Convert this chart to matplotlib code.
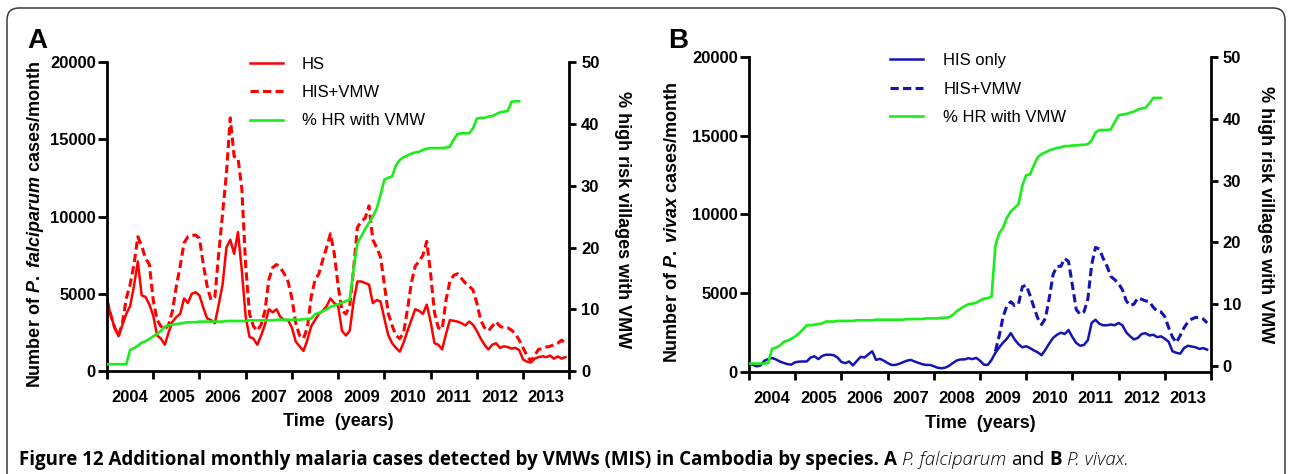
### Script description ###
# Monthly malaria cases (HIS vs HIS+VMW) and % high-risk villages with VMW, Cambodia
### Packages ###
import matplotlib
matplotlib.use('Agg')
import matplotlib.pyplot as plt
import matplotlib.ticker as ticker
from matplotlib.patches import FancyBboxPatch
import numpy as np

plt.rcParams['font.family'] = ['Liberation Sans', 'DejaVu Sans']
plt.rcParams['mathtext.fontset'] = 'custom'
plt.rcParams['mathtext.rm'] = 'Liberation Sans:bold'
plt.rcParams['mathtext.it'] = 'Liberation Sans:italic:bold'

##### data (one value per month 2004-2013) #####
months = 2004 + np.arange(120) / 12
years = [str(y) for y in range(2004, 2014)]

# A - P. falciparum
pf_his = [4600, 3600, 2800, 2250, 3000, 3700, 4200, 5500, 7100, 4900,
          4800, 4300, 3600, 2300, 2100, 1700, 2500, 3200, 3500, 3700,
          4700, 4400, 5000, 5100, 4900, 4100, 3400, 3300, 3100, 4300,
          5600, 8000, 8500, 7600, 9000, 6500, 3500, 2200, 2100, 1700,
          2300, 3000, 4000, 3800, 4000, 3500, 3300, 3300, 2800, 1900,
          1600, 1300, 2000, 2900, 3300, 3700, 3900, 4200, 4700, 4400,
          4200, 2600, 2300, 2600, 4500, 5800, 5800, 5700, 5600, 4400,
          4600, 4500, 3400, 2330, 1800, 1500, 1250, 1850, 2600, 3300,
          4000, 3900, 3700, 4300, 3200, 1800, 1700, 1400, 2400, 3300,
          3250, 3200, 3100, 2950, 3200, 3000, 2600, 2100, 1700, 1400,
          1700, 1800, 1500, 1600, 1550, 1450, 1500, 1350, 750, 600,
          550, 800, 900, 950, 900, 1000, 800, 950, 800, 900]
pf_vmw = [4600, 3600, 2800, 2300, 3100, 4700, 5600, 6900, 8700, 8100,
          7300, 6900, 4600, 3300, 2900, 2700, 3000, 3900, 5500, 6800,
          8300, 8700, 8800, 8800, 8600, 6900, 5500, 4600, 4800, 7600,
          10200, 12800, 16400, 13900, 13800, 11800, 6800, 3700, 2900, 2600,
          3000, 3900, 5900, 6700, 6900, 6700, 6300, 5800, 4700, 3100,
          2300, 2100, 2800, 4800, 5900, 6300, 7200, 8000, 8900, 7600,
          5500, 3900, 3700, 4200, 6600, 9300, 9700, 9900, 10700, 8500,
          8000, 7400, 5600, 3740, 2950, 2300, 2100, 2500, 4000, 5700,
          6800, 7100, 7500, 8400, 6300, 3800, 2800, 2700, 4600, 5800,
          6200, 6300, 6000, 5700, 5500, 5250, 4400, 3300, 2800, 2600,
          2900, 3200, 2900, 2800, 2800, 2650, 2400, 2000, 1500, 1000,
          650, 1000, 1400, 1450, 1550, 1600, 1700, 1800, 2000, 1800]
pf_hr = [1.1, 1.1, 1.1, 1.1, 1.1, 1.1,
         3.4, 3.7, 4.1, 4.6, 4.8, 5.2, 5.6, 6.0, 6.5, 7.2,
         7.4, 7.5, 7.6, 7.7, 7.8, 7.9, 7.9, 7.9, 8.0, 8.0,
         8.0, 8.0, 8.0, 8.0, 8.0, 8.1, 8.1, 8.1, 8.1, 8.1,
         8.1, 8.2, 8.2, 8.2, 8.2, 8.2, 8.2, 8.2, 8.3, 8.3,
         8.3, 8.3, 8.3, 8.3, 8.3, 8.4, 8.4, 8.5, 9.2, 9.4,
         9.7, 10.0, 10.4, 10.6, 10.8, 11.1, 11.3, 11.5, 16.5, 20.7,
         21.8, 23.0, 24.0, 25.0, 26.3, 28.5, 31.0, 31.3, 31.5, 33.3,
         34.2, 34.6, 34.9, 35.2, 35.4, 35.5, 35.8, 36.0, 36.1, 36.1,
         36.1, 36.1, 36.2, 36.3, 37.5, 38.4, 38.5, 38.5, 38.5, 39.3,
         40.9, 41.0, 41.0, 41.2, 41.3, 41.6, 41.9, 42.0, 42.1, 43.6,
         43.7, 43.7]

# B - P. vivax
pv_his = [540, 430, 340, 400, 700, 800, 870, 780, 650, 560,
          480, 450, 600, 640, 650, 650, 900, 980, 800, 1000,
          1080, 1080, 1050, 900, 620, 540, 650, 400, 680, 950,
          900, 1100, 1300, 750, 820, 700, 550, 430, 430, 500,
          600, 700, 750, 650, 560, 480, 430, 430, 350, 250,
          220, 260, 380, 560, 720, 780, 780, 860, 800, 880,
          700, 450, 430, 750, 1200, 1550, 1850, 2100, 2450, 2050,
          1750, 1550, 1620, 1500, 1350, 1230, 1050, 1400, 1800, 2150,
          2350, 2480, 2400, 2650, 2200, 1830, 1650, 1700, 2000, 3100,
          3300, 3050, 2950, 2950, 3000, 2950, 3100, 2950, 2500, 2250,
          2050, 2150, 2400, 2450, 2300, 2350, 2200, 2250, 2100, 1900,
          1300, 1200, 1150, 1500, 1650, 1600, 1550, 1450, 1500, 1400]
pv_vmw_start = 64  # HIS+VMW only plotted from month 64 (May 2009)
pv_vmw = [1300, 2300, 3500, 4200, 4450, 4200,
          4300, 5400, 5500, 4850, 4100, 3400, 3000, 3400, 4700, 6200,
          6700, 6700, 7200, 7000, 5500, 3950, 3650, 3800, 4600, 6800,
          7900, 7800, 7200, 6700, 6050, 5850, 5600, 5200, 4500, 4200,
          4300, 4700, 4600, 4500, 4450, 4100, 3850, 3800, 3500, 2800,
          2200, 1850, 2300, 2800, 3150, 3350, 3450, 3450, 3350, 3100]
pv_hr = [0.4, 0.4, 0.4, 0.4, 0.4, 0.5,
         2.8, 3.0, 3.3, 3.9, 4.1, 4.4, 4.8, 5.3, 5.9, 6.6,
         6.6, 6.7, 6.8, 6.9, 7.2, 7.2, 7.2, 7.3, 7.3, 7.3,
         7.3, 7.3, 7.4, 7.4, 7.4, 7.4, 7.4, 7.5, 7.5, 7.5,
         7.5, 7.5, 7.5, 7.5, 7.5, 7.6, 7.6, 7.6, 7.6, 7.6,
         7.7, 7.7, 7.7, 7.7, 7.8, 7.8, 7.9, 8.3, 8.9, 9.3,
         9.7, 10.0, 10.1, 10.2, 10.6, 10.9, 11.0, 11.2, 19.5, 21.5,
         22.4, 24.0, 25.0, 25.6, 26.2, 29.2, 30.9, 31.0, 32.5, 33.8,
         34.3, 34.6, 34.9, 35.1, 35.3, 35.4, 35.6, 35.6, 35.7, 35.7,
         35.8, 35.8, 35.9, 36.5, 37.8, 38.2, 38.2, 38.2, 38.3, 39.5,
         40.6, 40.7, 40.8, 41.0, 41.2, 41.5, 41.7, 41.8, 42.5, 43.4,
         43.4, 43.4]

##### styles #####
red = '#ff0000'
blue = '#1414b4'
green = '#19ee19'
dash = (2.7, 1.4)
W, H = 1292, 474


def px(x0, y_top, x1, y_bot):
    '''pixel box (from top-left) -> figure fraction [l, b, w, h]'''
    return [x0 / W, (H - y_bot) / H, (x1 - x0) / W, (y_bot - y_top) / H]


def style_axes(ax, ax2, ylabel, ylab_x, ylab_y, rlab_x, rlab_y):
    ax.set_xlim(2004, 2014)
    ax.set_ylim(0, 20000)
    ax2.set_yticks([0, 10, 20, 30, 40, 50])
    ax.set_yticks([0, 5000, 10000, 15000, 20000])
    ax.xaxis.set_major_locator(ticker.MultipleLocator(1))
    ax.xaxis.set_major_formatter(ticker.NullFormatter())
    ax.xaxis.set_minor_locator(ticker.FixedLocator(np.arange(2004.5, 2014, 1)))
    ax.xaxis.set_minor_formatter(ticker.FixedFormatter(years))
    for a in (ax, ax2):
        a.spines['top'].set_visible(False)
        for s in a.spines.values():
            s.set_linewidth(2)
    ax.spines['right'].set_visible(False)
    ax2.spines['left'].set_visible(False)
    ax2.spines['bottom'].set_visible(False)
    ax.tick_params(axis='y', which='major', length=6.5, width=2, pad=1.5, labelsize=12)
    ax.tick_params(axis='x', which='major', length=6, width=2)
    ax.tick_params(axis='x', which='minor', length=0, pad=14, labelsize=12)
    ax2.tick_params(axis='y', length=5, width=2, pad=3.5, labelsize=12)
    for lab in ax.get_yticklabels() + ax.get_xticklabels(minor=True) + ax2.get_yticklabels():
        lab.set_fontweight('bold')
    ax.set_ylabel(ylabel, fontsize=13, fontweight='bold', va='center', ha='center')
    ax.yaxis.set_label_coords(ylab_x, ylab_y)
    ax.set_xlabel('Time  (years)', fontsize=13, fontweight='bold', va='center')
    ax.xaxis.set_label_coords(0.5, -0.165)
    ax2.set_ylabel('% high risk villages with VMW', fontsize=13, fontweight='bold',
                   rotation=270, va='center', ha='center')
    ax2.yaxis.set_label_coords(rlab_x, rlab_y)


fig = plt.figure(figsize=(W / 100, H / 100), dpi=100)

### panel A ###
axA = fig.add_axes(px(107, 62.3, 569.3, 371))
axA2 = axA.twinx()
axA2.set_position(px(107, 62.3, 569.3, 371))
axA2.set_ylim(0, 50)
lA1, = axA.plot(months, pf_his, color=red, lw=1.8, label='HS')
lA2, = axA.plot(months, pf_vmw, color=red, lw=2.2, dashes=dash, label='HIS+VMW')
lA3, = axA2.plot(months[:len(pf_hr)], pf_hr, color=green, lw=1.9, label='% HR with VMW')
style_axes(axA, axA2, r'Number of $\mathit{P.\ falciparum}$ cases/month',
           -0.155, 0.476, 1.114, 0.489)
axA.legend(handles=[lA1, lA2, lA3], loc='upper left', bbox_to_anchor=(0.309, 1.018),
           frameon=False, fontsize=12, borderpad=0, borderaxespad=0,
           handlelength=2.0, handletextpad=1.12, labelspacing=0.8)

### panel B ###
axB = fig.add_axes(px(749, 62.3, 1211, 371.7))
axB2 = axB.twinx()
axB2.set_position(px(749, 57.1, 1211, 371.7))  # right axis sits a little higher in the original
axB2.set_ylim(-0.92, 50)
lB1, = axB.plot(months, pv_his, color=blue, lw=1.8, label='HIS only')
lB2, = axB.plot(months[pv_vmw_start:], pv_vmw, color=blue, lw=2.2, dashes=dash, label='HIS+VMW')
lB3, = axB2.plot(months[:len(pv_hr)], pv_hr, color=green, lw=1.9, label='% HR with VMW')
style_axes(axB, axB2, r'Number of $\mathit{P.\ vivax}$ cases/month',
           -0.165, 0.474, 1.117, 0.5)
axB.legend(handles=[lB1, lB2, lB3], loc='upper left', bbox_to_anchor=(0.305, 1.012),
           frameon=False, fontsize=12, borderpad=0, borderaxespad=0,
           handlelength=2.0, handletextpad=1.2, labelspacing=0.8)

### panel letters ###
fig.text(27 / W, 1 - 48 / H, 'A', fontsize=20, fontweight='bold', va='baseline')
fig.text(668 / W, 1 - 48 / H, 'B', fontsize=20, fontweight='bold', va='baseline')

### frame round the figure ###
frame = FancyBboxPatch((0.07, -0.3), 12.78, 4.66 + 0.3,
                       boxstyle='round,pad=0,rounding_size=0.12',
                       transform=fig.dpi_scale_trans, fill=False,
                       edgecolor='#3a3a3a', lw=1.1)
fig.patches.append(frame)

### caption (mixed styles, placed piece by piece) ###
cap_size = 13.5
cap_font = ['Open Sans', 'DejaVu Sans']
pieces = [('Figure 12 Additional monthly malaria cases detected by VMWs (MIS) in Cambodia by species.', 'bold', 'normal'),
          ('A', 'bold', 'normal'),
          ('P. falciparum', 'light', 'italic'),
          ('and', 'normal', 'normal'),
          ('B', 'bold', 'normal'),
          ('P. vivax.', 'light', 'italic')]
renderer = fig.canvas.get_renderer()
space = 0.27 * cap_size * 100 / 72
x = 19
for txt, weight, style in pieces:
    t = fig.text(x / W, 1 - 465 / H, txt, fontsize=cap_size, family=cap_font,
                 fontweight=weight, fontstyle=style, va='baseline')
    x += t.get_window_extent(renderer).width + space

fig.savefig('out.png', dpi=100)
